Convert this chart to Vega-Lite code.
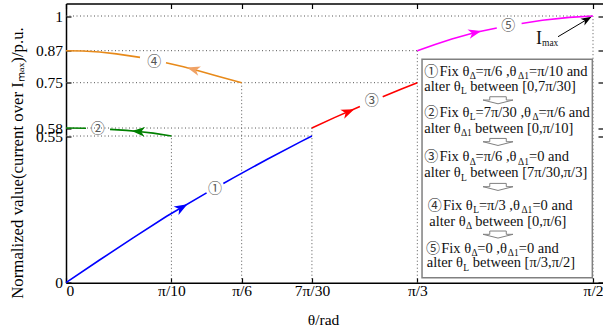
{
  "$schema": "https://vega.github.io/schema/vega-lite/v6.json",
  "width": 537,
  "height": 279.2,
  "autosize": {"type": "none"},
  "padding": {"left": 66, "top": 3.5, "right": 0, "bottom": 46.3},
  "background": "white",
  "config": {"view": {"stroke": null}, "font": "Liberation Serif"},
  "datasets": {
    "drops": [
      {"x": 0, "x2": 1.5708, "y": 1, "y2": 1},
      {"x": 0, "x2": 1.0472, "y": 0.87, "y2": 0.87},
      {"x": 0, "x2": 1.0472, "y": 0.75, "y2": 0.75},
      {"x": 0, "x2": 0.733, "y": 0.58, "y2": 0.58},
      {"x": 0, "x2": 0.733, "y": 0.55, "y2": 0.55},
      {"x": 0.3142, "x2": 0.3142, "y": 0, "y2": 0.55},
      {"x": 0.5236, "x2": 0.5236, "y": 0, "y2": 0.75},
      {"x": 0.733, "x2": 0.733, "y": 0, "y2": 0.58},
      {"x": 1.0472, "x2": 1.0472, "y": 0, "y2": 0.87},
      {"x": 1.5708, "x2": 1.5708, "y": 0, "y2": 1}
    ],
    "curves": [
      {"series": "1", "seg": "a", "theta": 0, "val": 0},
      {"series": "1", "seg": "a", "theta": 0.1, "val": 0.085},
      {"series": "1", "seg": "a", "theta": 0.2, "val": 0.168},
      {"series": "1", "seg": "a", "theta": 0.3, "val": 0.249},
      {"series": "1", "seg": "a", "theta": 0.419, "val": 0.337},
      {"series": "1", "seg": "b", "theta": 0.469, "val": 0.372},
      {"series": "1", "seg": "b", "theta": 0.5, "val": 0.394},
      {"series": "1", "seg": "b", "theta": 0.6, "val": 0.463},
      {"series": "1", "seg": "b", "theta": 0.7, "val": 0.529},
      {"series": "1", "seg": "b", "theta": 0.733, "val": 0.55},
      {"series": "2", "seg": "a", "theta": 0, "val": 0.58},
      {"series": "2", "seg": "a", "theta": 0.0596, "val": 0.579},
      {"series": "2", "seg": "b", "theta": 0.1311, "val": 0.575},
      {"series": "2", "seg": "b", "theta": 0.18, "val": 0.571},
      {"series": "2", "seg": "b", "theta": 0.2155, "val": 0.567},
      {"series": "2", "seg": "b", "theta": 0.26, "val": 0.561},
      {"series": "2", "seg": "b", "theta": 0.3142, "val": 0.55},
      {"series": "3", "seg": "a", "theta": 0.733, "val": 0.58},
      {"series": "3", "seg": "a", "theta": 0.8, "val": 0.619},
      {"series": "3", "seg": "a", "theta": 0.876, "val": 0.661},
      {"series": "3", "seg": "b", "theta": 0.944, "val": 0.697},
      {"series": "3", "seg": "b", "theta": 1.0, "val": 0.726},
      {"series": "3", "seg": "b", "theta": 1.0472, "val": 0.75},
      {"series": "4", "seg": "a", "theta": 0, "val": 0.87},
      {"series": "4", "seg": "a", "theta": 0.05, "val": 0.869},
      {"series": "4", "seg": "a", "theta": 0.1, "val": 0.865},
      {"series": "4", "seg": "a", "theta": 0.15, "val": 0.858},
      {"series": "4", "seg": "a", "theta": 0.2206, "val": 0.845},
      {"series": "4", "seg": "b", "theta": 0.298, "val": 0.825},
      {"series": "4", "seg": "b", "theta": 0.35, "val": 0.81},
      {"series": "4", "seg": "b", "theta": 0.4, "val": 0.793},
      {"series": "4", "seg": "b", "theta": 0.45, "val": 0.775},
      {"series": "4", "seg": "b", "theta": 0.5236, "val": 0.75},
      {"series": "5", "seg": "a", "theta": 1.0472, "val": 0.87},
      {"series": "5", "seg": "a", "theta": 1.1, "val": 0.893},
      {"series": "5", "seg": "a", "theta": 1.15, "val": 0.914},
      {"series": "5", "seg": "a", "theta": 1.2191, "val": 0.938},
      {"series": "5", "seg": "a", "theta": 1.284, "val": 0.955},
      {"series": "5", "seg": "b", "theta": 1.358, "val": 0.972},
      {"series": "5", "seg": "b", "theta": 1.42, "val": 0.984},
      {"series": "5", "seg": "b", "theta": 1.5, "val": 0.995},
      {"series": "5", "seg": "b", "theta": 1.5708, "val": 1.0}
    ],
    "heads": [
      {"series": "1", "theta": 0.345, "val": 0.282, "heading": -30},
      {"series": "2", "theta": 0.2155, "val": 0.567, "heading": 184},
      {"series": "3", "theta": 0.8414, "val": 0.641, "heading": -23},
      {"series": "4", "theta": 0.3794, "val": 0.8, "heading": 196},
      {"series": "5", "theta": 1.2191, "val": 0.938, "heading": -14}
    ],
    "imaxhead": [{"theta": 1.5529, "val": 0.987, "heading": -30}],
    "pointer": [{"x": 1.4665, "y": 0.9224, "x2": 1.5529, "y2": 0.987}],
    "curvelabels": [
      {"label": "①", "theta": 0.4441, "val": 0.3513},
      {"label": "②", "theta": 0.0945, "val": 0.5752},
      {"label": "③", "theta": 0.9112, "val": 0.6824},
      {"label": "④", "theta": 0.2632, "val": 0.8264},
      {"label": "⑤", "theta": 1.3184, "val": 0.9625}
    ],
    "box": [{"x": 1.0612, "x2": 1.5688, "y": 0.0187, "y2": 0.8376}],
    "downs": [
      {"theta": 1.2877, "val": 0.6849},
      {"theta": 1.2877, "val": 0.5286},
      {"theta": 1.2877, "val": 0.36},
      {"theta": 1.2877, "val": 0.1814}
    ],
    "boxtext": [
      {"role": "circ", "text": "①", "theta": 1.068, "val": 0.7912},
      {"role": "main", "text": "Fix θ", "theta": 1.1133, "val": 0.7912},
      {"role": "sub", "text": "Δ", "theta": 1.2033, "val": 0.7912},
      {"role": "main", "text": "=π/6 ,θ", "theta": 1.2206, "val": 0.7912},
      {"role": "sub", "text": "Δ1", "theta": 1.3475, "val": 0.7912},
      {"role": "main", "text": "=π/10 and", "theta": 1.3801, "val": 0.7912},
      {"role": "main", "text": "alter θ", "theta": 1.068, "val": 0.7349},
      {"role": "sub", "text": "L", "theta": 1.1771, "val": 0.7349},
      {"role": "main", "text": "between [0,7π/30]", "theta": 1.2051, "val": 0.7349},
      {"role": "circ", "text": "②", "theta": 1.068, "val": 0.6374},
      {"role": "main", "text": "Fix θ", "theta": 1.1133, "val": 0.6374},
      {"role": "sub", "text": "L", "theta": 1.2033, "val": 0.6374},
      {"role": "main", "text": "=7π/30 ,θ", "theta": 1.2206, "val": 0.6374},
      {"role": "sub", "text": "Δ", "theta": 1.3907, "val": 0.6374},
      {"role": "main", "text": "=π/6 and", "theta": 1.408, "val": 0.6374},
      {"role": "main", "text": "alter θ", "theta": 1.068, "val": 0.5774},
      {"role": "sub", "text": "Δ1", "theta": 1.1771, "val": 0.5774},
      {"role": "main", "text": "between [0,π/10]", "theta": 1.2194, "val": 0.5774},
      {"role": "circ", "text": "③", "theta": 1.068, "val": 0.4702},
      {"role": "main", "text": "Fix θ", "theta": 1.1133, "val": 0.4702},
      {"role": "sub", "text": "Δ", "theta": 1.2033, "val": 0.4702},
      {"role": "main", "text": "=π/6 ,θ", "theta": 1.2206, "val": 0.4702},
      {"role": "sub", "text": "Δ1", "theta": 1.3475, "val": 0.4702},
      {"role": "main", "text": "=0 and", "theta": 1.3801, "val": 0.4702},
      {"role": "main", "text": "alter θ", "theta": 1.068, "val": 0.4102},
      {"role": "sub", "text": "L", "theta": 1.1771, "val": 0.4102},
      {"role": "main", "text": "between [7π/30,π/3]", "theta": 1.2051, "val": 0.4102},
      {"role": "circ", "text": "④", "theta": 1.0781, "val": 0.2876},
      {"role": "main", "text": "Fix θ", "theta": 1.1234, "val": 0.2876},
      {"role": "sub", "text": "L", "theta": 1.2135, "val": 0.2876},
      {"role": "main", "text": "=π/3 ,θ", "theta": 1.2308, "val": 0.2876},
      {"role": "sub", "text": "Δ1", "theta": 1.3576, "val": 0.2876},
      {"role": "main", "text": "=0 and", "theta": 1.3902, "val": 0.2876},
      {"role": "main", "text": "alter θ", "theta": 1.0829, "val": 0.2287},
      {"role": "sub", "text": "Δ", "theta": 1.192, "val": 0.2287},
      {"role": "main", "text": "between [0,π/6]", "theta": 1.22, "val": 0.2287},
      {"role": "circ", "text": "⑤", "theta": 1.0731, "val": 0.1264},
      {"role": "main", "text": "Fix θ", "theta": 1.1184, "val": 0.1264},
      {"role": "sub", "text": "Δ", "theta": 1.2084, "val": 0.1264},
      {"role": "main", "text": "=0 ,θ", "theta": 1.2257, "val": 0.1264},
      {"role": "sub", "text": "Δ1", "theta": 1.3168, "val": 0.1264},
      {"role": "main", "text": "=0 and", "theta": 1.3494, "val": 0.1264},
      {"role": "main", "text": "alter θ", "theta": 1.0751, "val": 0.0727},
      {"role": "sub", "text": "L", "theta": 1.1842, "val": 0.0727},
      {"role": "main", "text": "between [π/3,π/2]", "theta": 1.2122, "val": 0.0727},
      {"role": "big", "text": "I", "theta": 1.4009, "val": 0.9138},
      {"role": "sub", "text": "max", "theta": 1.4188, "val": 0.9138}
    ]
  },
  "layer": [
    {
      "data": {"name": "drops"},
      "mark": {"type": "rule", "color": "#555555", "strokeWidth": 1, "strokeDash": [1, 2.5]},
      "encoding": {
        "x": {"field": "x", "type": "quantitative", "scale": {"domain": [0, 1.6006], "nice": false, "zero": false},
          "axis": {"orient": "bottom", "values": [0, 0.314159, 0.523599, 0.733038, 1.047198, 1.570796],
            "labelExpr": "datum.value < 0.1 ? '0' : datum.value < 0.4 ? 'π/10' : datum.value < 0.6 ? 'π/6' : datum.value < 0.8 ? '7π/30' : datum.value < 1.2 ? 'π/3' : 'π/2'",
            "labelFlush": true, "labelOverlap": false, "labelFontSize": 15.5, "labelFont": "Liberation Serif", "labelColor": "#000000", "labelPadding": 1,
            "ticks": false, "grid": false, "domain": true, "domainColor": "#000000", "domainWidth": 1.5,
            "title": "θ/rad", "titleFont": "Liberation Serif", "titleFontSize": 15.5, "titleFontWeight": "normal", "titleColor": "#000000", "titleX": 257, "titlePadding": 13}},
        "x2": {"field": "x2"},
        "y": {"field": "y", "type": "quantitative", "scale": {"domain": [0, 1.0469], "nice": false, "zero": false},
          "axis": {"orient": "left", "values": [0, 0.55, 0.58, 0.75, 0.87, 1],
            "labelExpr": "datum.value == 0 ? '0' : datum.value == 1 ? '1' : format(datum.value, '.2f')",
            "labelFlush": false, "labelOverlap": false, "labelFontSize": 15.5, "labelFont": "Liberation Serif", "labelColor": "#000000", "labelPadding": 3.5,
            "ticks": false, "grid": false, "domain": true, "domainColor": "#000000", "domainWidth": 1.5,
            "title": "Normalized value(current over Iₘₐₓ)/p.u.", "titleFont": "Liberation Serif", "titleFontSize": 16.8, "titleFontWeight": "normal", "titleColor": "#000000", "titleY": 159, "titlePadding": 9}},
        "y2": {"field": "y2"}
      }
    },
    {
      "data": {"name": "curves"},
      "mark": {"type": "line", "strokeWidth": 1.6},
      "encoding": {
        "x": {"field": "theta", "type": "quantitative", "scale": {"domain": [0, 1.6006], "nice": false, "zero": false},
          "axis": {"orient": "bottom", "offset": -5, "tickSize": 5, "tickWidth": 1.2, "tickColor": "#000000", "values": [0, 0.314159, 0.523599, 0.733038, 1.047198, 1.570796], "labels": false, "domain": false, "grid": false, "title": null}},
        "y": {"field": "val", "type": "quantitative", "scale": {"domain": [0, 1.0469], "nice": false, "zero": false},
          "axis": {"orient": "left", "offset": -5, "tickSize": 5, "tickWidth": 1.2, "tickColor": "#000000", "values": [0, 0.55, 0.58, 0.75, 0.87, 1], "labels": false, "domain": false, "grid": false, "title": null}},
        "color": {"field": "series", "type": "nominal", "legend": null,
          "scale": {"domain": ["1", "2", "3", "4", "5"], "range": ["#0000ff", "#008000", "#ff0000", "#e88a1a", "#ff00ff"]}},
        "detail": {"field": "seg"}
      }
    },
    {
      "data": {"name": "heads"},
      "mark": {"type": "point", "shape": "M1,0L-1,-0.75L-0.45,0L-1,0.75Z", "filled": true, "opacity": 1, "size": 170, "strokeWidth": 0},
      "encoding": {
        "x": {"field": "theta", "type": "quantitative", "scale": {"domain": [0, 1.6006], "nice": false, "zero": false},
          "axis": {"orient": "top", "ticks": false, "labels": false, "domain": true, "domainColor": "#000000", "domainWidth": 1.5, "grid": false, "title": null}},
        "y": {"field": "val", "type": "quantitative", "scale": {"domain": [0, 1.0469], "nice": false, "zero": false},
          "axis": {"orient": "right", "offset": -5, "tickSize": 5, "tickWidth": 1.2, "tickColor": "#000000", "values": [0, 0.55, 0.58, 0.75, 0.87, 1], "labels": false, "domain": false, "grid": false, "title": null}},
        "fill": {"field": "series", "type": "nominal", "legend": null,
          "scale": {"domain": ["1", "2", "3", "4", "5"], "range": ["#0000ff", "#008000", "#ff0000", "#f0a265", "#ff00ff"]}},
        "angle": {"field": "heading", "type": "quantitative", "scale": null}
      }
    },
    {
      "data": {"name": "imaxhead"},
      "mark": {"type": "point", "shape": "M1,0L-1,-0.75L-0.45,0L-1,0.75Z", "filled": true, "opacity": 1, "size": 110, "strokeWidth": 0, "fill": "#000000"},
      "encoding": {
        "x": {"field": "theta", "type": "quantitative", "scale": {"domain": [0, 1.6006], "nice": false, "zero": false},
          "axis": {"orient": "top", "offset": -5, "tickSize": 5, "tickWidth": 1.2, "tickColor": "#000000", "values": [0, 0.314159, 0.523599, 0.733038, 1.047198, 1.570796], "labels": false, "domain": false, "grid": false, "title": null}},
        "y": {"field": "val", "type": "quantitative", "scale": {"domain": [0, 1.0469], "nice": false, "zero": false}, "axis": null},
        "angle": {"field": "heading", "type": "quantitative", "scale": null}
      }
    },
    {
      "data": {"name": "pointer"},
      "mark": {"type": "rule", "color": "#000000", "strokeWidth": 1},
      "encoding": {
        "x": {"field": "x", "type": "quantitative", "scale": {"domain": [0, 1.6006], "nice": false, "zero": false}, "axis": null},
        "x2": {"field": "x2"},
        "y": {"field": "y", "type": "quantitative", "scale": {"domain": [0, 1.0469], "nice": false, "zero": false}, "axis": null},
        "y2": {"field": "y2"}
      }
    },
    {
      "data": {"name": "curvelabels"},
      "mark": {"type": "text", "font": "Noto Sans CJK JP", "fontSize": 14, "color": "#555555", "align": "center", "baseline": "middle"},
      "encoding": {
        "x": {"field": "theta", "type": "quantitative", "scale": {"domain": [0, 1.6006], "nice": false, "zero": false}, "axis": null},
        "y": {"field": "val", "type": "quantitative", "scale": {"domain": [0, 1.0469], "nice": false, "zero": false}, "axis": null},
        "text": {"field": "label"}
      }
    },
    {
      "data": {"name": "box"},
      "mark": {"type": "rect", "fill": "#ffffff", "stroke": "#808080", "strokeWidth": 1.5},
      "encoding": {
        "x": {"field": "x", "type": "quantitative", "scale": {"domain": [0, 1.6006], "nice": false, "zero": false}, "axis": null},
        "x2": {"field": "x2"},
        "y": {"field": "y", "type": "quantitative", "scale": {"domain": [0, 1.0469], "nice": false, "zero": false}, "axis": null},
        "y2": {"field": "y2"}
      }
    },
    {
      "data": {"name": "downs"},
      "mark": {"type": "point", "shape": "M-0.55,-0.22L0.55,-0.22L0.55,0L1,0L0,0.25L-1,0L-0.55,0Z", "filled": true, "fill": "#ffffff", "stroke": "#808080", "strokeWidth": 1, "opacity": 1, "size": 900},
      "encoding": {
        "x": {"field": "theta", "type": "quantitative", "scale": {"domain": [0, 1.6006], "nice": false, "zero": false}, "axis": null},
        "y": {"field": "val", "type": "quantitative", "scale": {"domain": [0, 1.0469], "nice": false, "zero": false}, "axis": null}
      }
    },
    {
      "data": {"name": "boxtext"},
      "transform": [{"filter": "datum.role == 'main'"}],
      "mark": {"type": "text", "font": "Liberation Serif", "fontSize": 14.5, "color": "#111111", "align": "left", "baseline": "middle"},
      "encoding": {
        "x": {"field": "theta", "type": "quantitative", "scale": {"domain": [0, 1.6006], "nice": false, "zero": false}, "axis": null},
        "y": {"field": "val", "type": "quantitative", "scale": {"domain": [0, 1.0469], "nice": false, "zero": false}, "axis": null},
        "text": {"field": "text"}
      }
    },
    {
      "data": {"name": "boxtext"},
      "transform": [{"filter": "datum.role == 'big'"}],
      "mark": {"type": "text", "font": "Liberation Serif", "fontSize": 18, "color": "#111111", "align": "left", "baseline": "middle"},
      "encoding": {
        "x": {"field": "theta", "type": "quantitative", "scale": {"domain": [0, 1.6006], "nice": false, "zero": false}, "axis": null},
        "y": {"field": "val", "type": "quantitative", "scale": {"domain": [0, 1.0469], "nice": false, "zero": false}, "axis": null},
        "text": {"field": "text"}
      }
    },
    {
      "data": {"name": "boxtext"},
      "transform": [{"filter": "datum.role == 'sub'"}],
      "mark": {"type": "text", "font": "Liberation Serif", "fontSize": 9.5, "color": "#111111", "align": "left", "baseline": "middle", "dy": 4.5},
      "encoding": {
        "x": {"field": "theta", "type": "quantitative", "scale": {"domain": [0, 1.6006], "nice": false, "zero": false}, "axis": null},
        "y": {"field": "val", "type": "quantitative", "scale": {"domain": [0, 1.0469], "nice": false, "zero": false}, "axis": null},
        "text": {"field": "text"}
      }
    },
    {
      "data": {"name": "boxtext"},
      "transform": [{"filter": "datum.role == 'circ'"}],
      "mark": {"type": "text", "font": "Noto Sans CJK JP", "fontSize": 14, "color": "#333333", "align": "left", "baseline": "middle"},
      "encoding": {
        "x": {"field": "theta", "type": "quantitative", "scale": {"domain": [0, 1.6006], "nice": false, "zero": false}, "axis": null},
        "y": {"field": "val", "type": "quantitative", "scale": {"domain": [0, 1.0469], "nice": false, "zero": false}, "axis": null},
        "text": {"field": "text"}
      }
    }
  ],
  "resolve": {"axis": {"x": "independent", "y": "independent"}}
}
